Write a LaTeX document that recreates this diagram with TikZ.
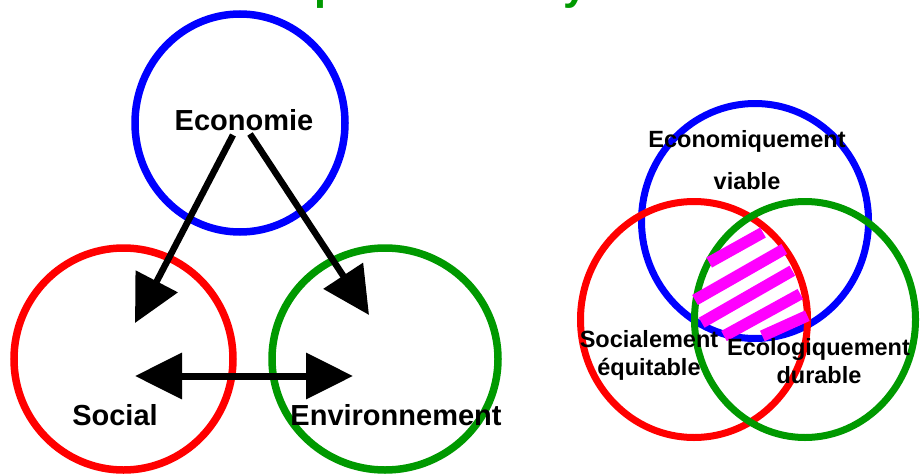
\documentclass[tikz,border=0pt]{standalone}
\usepackage{fontspec}
\setmainfont{Liberation Sans}
\usetikzlibrary{arrows.meta,shapes.geometric}
\definecolor{cblue}{RGB}{0,0,255}
\definecolor{cred}{RGB}{255,0,0}
\definecolor{cgreen}{RGB}{0,153,0}
\definecolor{cmag}{RGB}{255,0,255}
\tikzset{
  ring/.style={ellipse, draw=#1, line width=7.5pt, inner sep=0pt, fill=none},
  ringb/.style={ellipse, draw=#1, line width=7pt, inner sep=0pt, fill=none},
  bigtxt/.style={font=\bfseries\fontsize{29}{34}\selectfont, inner sep=0pt, anchor=base},
  smalltxt/.style={font=\bfseries\fontsize{23.5}{28}\selectfont, inner sep=0pt, anchor=base},
  titletxt/.style={font=\bfseries\fontsize{43}{50}\selectfont, text=cgreen, inner sep=0pt, anchor=base west},
  bigarrow/.style={line width=6.5pt, -{Triangle[length=47pt,width=46pt]}},
  bothArrow/.style={line width=7pt, {Triangle[length=47pt,width=45pt]}-{Triangle[length=47pt,width=45pt]}},
  stripe/.style={line width=11.5pt, draw=cmag, line cap=butt}
}
\begin{document}
\begin{tikzpicture}[x=1pt,y=-1pt]
\useasboundingbox (0,0) rectangle (920,474);
\clip (0,0) rectangle (920,474);
\fill[white] (0,0) rectangle (920,474);
% title fragments (cut off at the top)
\node[titletxt] (tp) at (314,-0.5) {p};
\node[titletxt] (ty) at (563,-0.5) {y};
% left diagram
\node[ring=cblue, minimum width=210pt, minimum height=218pt] (ceco) at (240,123) {};
\node[ring=cred, minimum width=219pt, minimum height=222pt] (csoc) at (123.5,359) {};
\node[ring=cgreen, minimum width=226pt, minimum height=222pt] (cenv) at (385,359) {};
\node[bigtxt] (teco) at (244,130) {Economie};
\node[bigtxt] (tsoc) at (115,425) {Social};
\node[bigtxt] (tenv) at (396,425) {Environnement};
\coordinate (ea) at (233,135);
\coordinate (eb) at (250,134);
\coordinate (sa) at (135,323);
\coordinate (sb) at (369,315);
\coordinate (ha) at (135,376);
\coordinate (hb) at (353,376);
\draw[bigarrow] (ea) -- (sa);
\draw[bigarrow] (eb) -- (sb);
\draw[bothArrow] (ha) -- (hb);
% right diagram
\node[ringb=cblue, minimum width=227pt, minimum height=235pt] (veco) at (755,221) {};
\node[ringb=cred, minimum width=227pt, minimum height=236pt] (vsoc) at (694,319.5) {};
\node[ringb=cgreen, minimum width=221pt, minimum height=236pt] (venv) at (805,319.5) {};
\draw[stripe] (709.2,262.5) -- (763,232.5);
\draw[stripe] (695,300) -- (784.3,249);
\draw[stripe] (701.7,322.7) -- (792.3,270.7);
\draw[stripe] (724,336) -- (800.3,294);
\draw[stripe] (762.3,336) -- (807.3,315.7);
\node[smalltxt] (r1) at (747,147) {Economiquement};
\node[smalltxt] (r2) at (747,189) {viable};
\node[smalltxt] (r3) at (649,347) {Socialement};
\node[smalltxt] (r4) at (649,375) {équitable};
\node[smalltxt] (r5) at (818.5,355) {Ecologiquement};
\node[smalltxt] (r6) at (819,383) {durable};
\end{tikzpicture}
\end{document}
